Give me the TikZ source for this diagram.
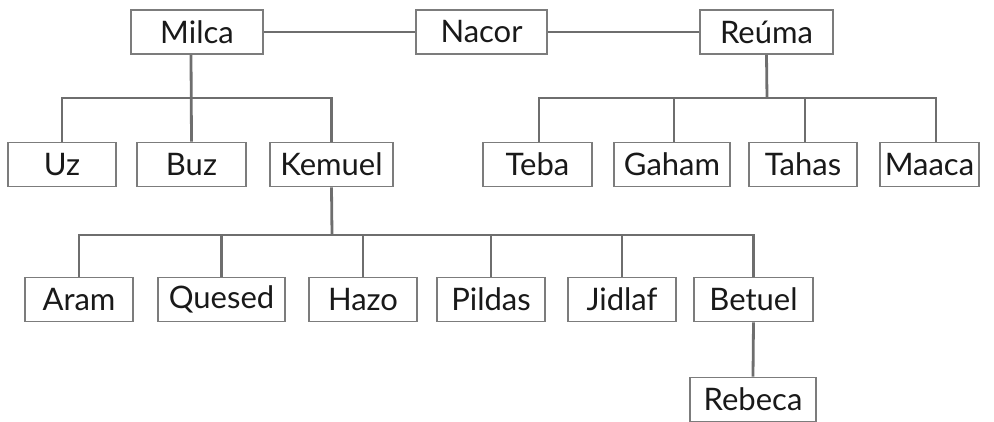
\documentclass[tikz,border=0pt]{standalone}
\usepackage{fontspec}
\setmainfont{Lato}
\begin{document}
\begin{tikzpicture}[x=1pt,y=-1pt,
  person/.style={draw=boxgray, line width=1.7pt, fill=white, text=black!90,
    minimum width=108pt, minimum height=44pt, inner sep=0pt,
    font=\fontsize{31}{34}\selectfont},
  link/.style={draw=linegray, line width=2.8pt}]
\definecolor{boxgray}{HTML}{7C7C7C}
\definecolor{linegray}{HTML}{6E6E6E}
\useasboundingbox (0,0) rectangle (994,422);

% bus lines sit behind the boxes
\coordinate (busM) at (191,98);
\coordinate (busR) at (767,98);
\coordinate (busK) at (332,235);

% first generation
\node[person, minimum width=132pt] (milca) at (197,32) {Milca};
\node[person, minimum width=131pt] (nacor) at (481.5,32) {Nacor};
\node[person, minimum width=133pt] (reuma) at (766.5,32) {Reúma};

% children of Milca
\node[person] (uz) at (62,164.5) {Uz};
\node[person, minimum width=109pt] (buz) at (191.5,164.5) {Buz};
\node[person, minimum width=123pt] (kemuel) at (331.5,164.5) {Kemuel};

% children of Reúma
\node[person, minimum width=109pt] (teba) at (537.5,164.5) {Teba};
\node[person, minimum width=116pt] (gaham) at (672,164.5) {Gaham};
\node[person] (tahas) at (803,164.5) {Tahas};
\node[person, minimum width=99pt] (maaca) at (929.5,164.5) {Maaca};

% children of Kemuel
\node[person] (aram) at (79,299.5) {Aram};
\node[person, minimum width=127pt] (quesed) at (221.5,299.5) {Quesed};
\node[person] (hazo) at (363,299.5) {Hazo};
\node[person] (pildas) at (491,299.5) {Pildas};
\node[person] (jidlaf) at (622,299.5) {Jidlaf};
\node[person, minimum width=119pt] (betuel) at (753.5,299.5) {Betuel};

% child of Betuel
\node[person, minimum width=126pt] (rebeca) at (753,399.5) {Rebeca};

% marriage links
\draw[link] (milca.east) -- (nacor.west);
\draw[link] (nacor.east) -- (reuma.west);

% Milca's line
\draw[link] (milca.south -| busM) -- (buz.north);
\draw[link] (uz.north) |- (busM) -| (kemuel.north);

% Reúma's line
\draw[link] (reuma.south) -- (busR);
\draw[link] ([xshift=1.5pt]teba.north) |- (busR) -| ([xshift=6.5pt]maaca.north);
\draw[link] ([xshift=2pt]gaham.north) -- ([xshift=2pt]gaham.north |- busR);
\draw[link] ([xshift=2pt]tahas.north) -- ([xshift=2pt]tahas.north |- busR);

% Kemuel's line
\draw[link] (kemuel.south) -- (busK);
\draw[link] (aram.north) |- (busK) -| (betuel.north);
\draw[link] (quesed.north) -- (quesed.north |- busK);
\draw[link] (hazo.north) -- (hazo.north |- busK);
\draw[link] (pildas.north) -- (pildas.north |- busK);
\draw[link] (jidlaf.north) -- (jidlaf.north |- busK);

% Betuel's line
\draw[link] (betuel.south) -- (rebeca.north);
\end{tikzpicture}
\end{document}
